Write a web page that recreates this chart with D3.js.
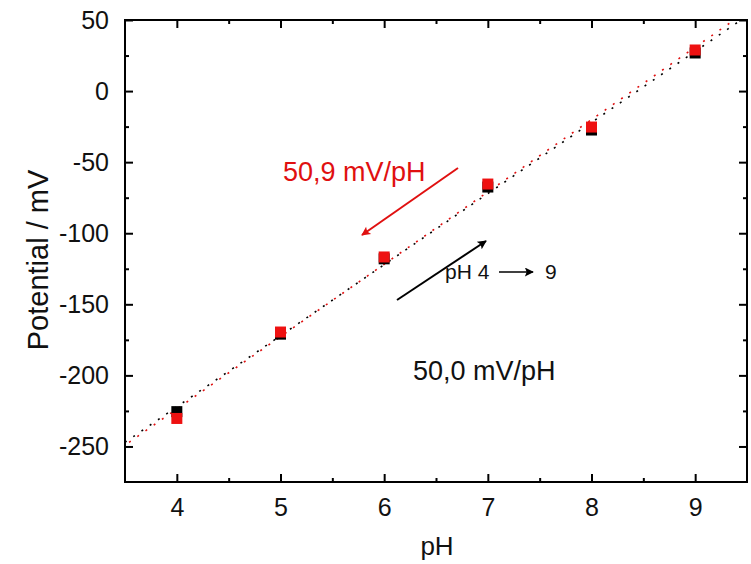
<!DOCTYPE html>
<html><head><meta charset="utf-8">
<script src="https://cdn.jsdelivr.net/npm/d3@7"></script>
<style>body{margin:0;background:#fff}svg{display:block}text{font-family:"Liberation Sans",Arial,sans-serif}</style>
</head><body><svg id="c" width="751" height="564"></svg>
<script>
const pH = [4,5,6,7,8,9];
const blackVals = [-225.5,-171,-118,-67.5,-27.4,26.8];
const redVals = [-230.3,-169.5,-116.7,-65.4,-25.3,28.9];
const xTicks = [4,5,6,7,8,9];
const yTicks = [50,0,-50,-100,-150,-200,-250];
const blackSlope = 50.0, redSlope = 50.9;

const svg = d3.select("#c");
const L=125, R=747, T=20, B=482;
const x = d3.scaleLinear().domain([3.5,9.5]).range([L,R]);
const y = d3.scaleLinear().domain([-275,50]).range([B,T]);

function fit(vals, slope){
  const mx = d3.mean(pH), my = d3.mean(vals);
  return xx => my + slope*(xx-mx);
}
const fb = fit(blackVals, blackSlope), fr = fit(redVals, redSlope);
const xs = [3.5, 9.5];

const plot = svg.append("g");
plot.append("clipPath").attr("id","clp").append("rect").attr("x",L).attr("y",T).attr("width",R-L).attr("height",B-T);
const pg = plot.append("g").attr("clip-path","url(#clp)");
pg.append("path").attr("d", d3.line().x(d=>x(d)).y(d=>y(fb(d)))(xs))
  .attr("stroke","#000").attr("stroke-width",1.6).attr("fill","none").attr("stroke-dasharray","2,8");
pg.append("path").attr("d", d3.line().x(d=>x(d)).y(d=>y(fr(d)))(xs))
  .attr("stroke","#e01010").attr("stroke-width",1.6).attr("fill","none").attr("stroke-dasharray","2,8").attr("stroke-dashoffset",5);

const s = 11;
pg.selectAll(".bk").data(pH).enter().append("rect")
  .attr("x",(d)=>x(d)-s/2).attr("y",(d,i)=>y(blackVals[i])-s/2).attr("width",s).attr("height",s).attr("fill","#000");
pg.selectAll(".rd").data(pH).enter().append("rect")
  .attr("x",(d)=>x(d)-s/2).attr("y",(d,i)=>y(redVals[i])-s/2).attr("width",s).attr("height",s).attr("fill","#ee1111");

// axes
const fs = "25px";
const fmt = d => String(d);
svg.append("g").attr("transform",`translate(0,${B})`)
  .call(d3.axisBottom(x).tickValues(xTicks).tickFormat(fmt).tickSizeInner(-8).tickSizeOuter(0).tickPadding(16));
svg.append("g").attr("transform",`translate(0,${B})`)
  .call(d3.axisBottom(x).tickValues([4.5,5.5,6.5,7.5,8.5]).tickSizeInner(-4).tickSizeOuter(0).tickFormat(""));
svg.append("g").attr("transform",`translate(0,${T})`)
  .call(d3.axisTop(x).tickValues(xTicks).tickSizeInner(-8).tickSizeOuter(0).tickFormat(""));
svg.append("g").attr("transform",`translate(0,${T})`)
  .call(d3.axisTop(x).tickValues([4.5,5.5,6.5,7.5,8.5]).tickSizeInner(-4).tickSizeOuter(0).tickFormat(""));
svg.append("g").attr("transform",`translate(${L},0)`)
  .call(d3.axisLeft(y).tickValues(yTicks).tickFormat(fmt).tickSizeInner(-8).tickSizeOuter(0).tickPadding(16));
svg.append("g").attr("transform",`translate(${L},0)`)
  .call(d3.axisLeft(y).tickValues([25,-25,-75,-125,-175,-225]).tickSizeInner(-4).tickSizeOuter(0).tickFormat(""));
svg.append("g").attr("transform",`translate(${R},0)`)
  .call(d3.axisRight(y).tickValues(yTicks).tickSizeInner(-8).tickSizeOuter(0).tickFormat(""));
svg.append("g").attr("transform",`translate(${R},0)`)
  .call(d3.axisRight(y).tickValues([25,-25,-75,-125,-175,-225]).tickSizeInner(-4).tickSizeOuter(0).tickFormat(""));
svg.selectAll(".domain").remove();
svg.selectAll(".tick line").attr("stroke","#000").attr("stroke-width",2);
svg.selectAll(".tick text").attr("font-size",fs).attr("fill","#111").attr("font-family","Liberation Sans, Arial, sans-serif");
svg.append("rect").attr("x",L).attr("y",T).attr("width",R-L).attr("height",B-T).attr("fill","none").attr("stroke","#000").attr("stroke-width",2);

// axis titles
svg.append("text").attr("x",437).attr("y",555).attr("text-anchor","middle").attr("font-size","26px").attr("fill","#111").text("pH");
svg.append("text").attr("transform","translate(48,260) rotate(-90)").attr("text-anchor","middle").attr("font-size","29px").attr("fill","#111").text("Potential / mV");

// annotations
const defs = svg.append("defs");
function marker(id,color){
  defs.append("marker").attr("id",id).attr("viewBox","0 0 10 10").attr("refX",9).attr("refY",5)
    .attr("markerWidth",15).attr("markerHeight",9).attr("markerUnits","userSpaceOnUse").attr("orient","auto")
    .append("path").attr("d","M0,0 L10,5 L0,10 L2,5 Z").attr("fill",color);
}
marker("ar","#e01010"); marker("ab","#000");
svg.append("line").attr("x1",458).attr("y1",168).attr("x2",362).attr("y2",235).attr("stroke","#e01010").attr("stroke-width",2).attr("marker-end","url(#ar)");
svg.append("line").attr("x1",397).attr("y1",300).attr("x2",486).attr("y2",241).attr("stroke","#000").attr("stroke-width",2).attr("marker-end","url(#ab)");
svg.append("line").attr("x1",499).attr("y1",272).attr("x2",533).attr("y2",272).attr("stroke","#000").attr("stroke-width",1.6).attr("marker-end","url(#ab)");
svg.append("text").attr("x",283).attr("y",181).attr("font-size","27px").attr("fill","#e01010").text("50,9 mV/pH");
svg.append("text").attr("x",413).attr("y",380).attr("font-size","27px").attr("fill","#111").text("50,0 mV/pH");
svg.append("text").attr("x",445).attr("y",279).attr("font-size","21px").attr("fill","#111").text("pH 4");
svg.append("text").attr("x",545).attr("y",279).attr("font-size","21px").attr("fill","#111").text("9");
</script></body></html>
